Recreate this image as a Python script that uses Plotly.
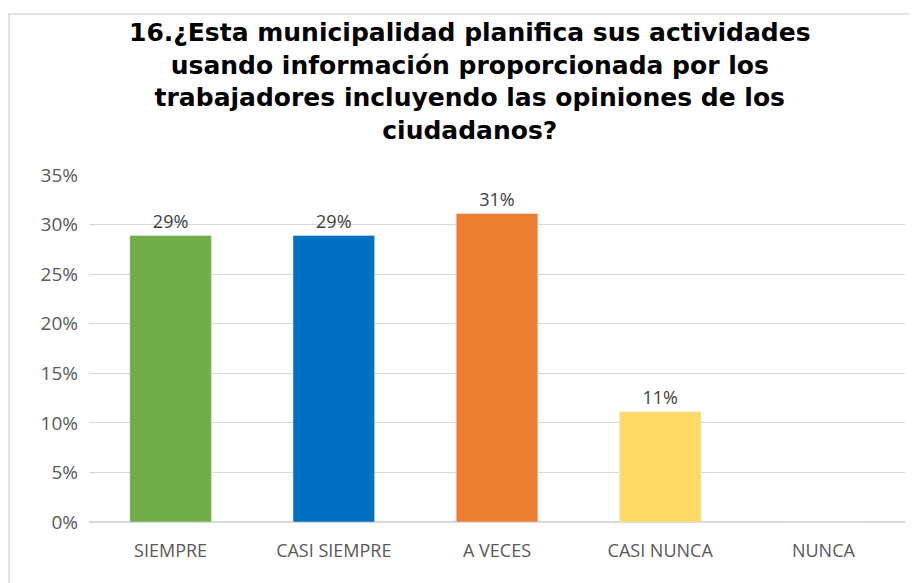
import plotly.graph_objects as go

categories = ["SIEMPRE", "CASI SIEMPRE", "A VECES", "CASI NUNCA", "NUNCA"]
values = [0.2889, 0.2889, 0.3111, 0.1111, 0.0]
labels = ["29%", "29%", "31%", "11%", ""]
colors = ["#70AD47", "#0070C0", "#ED7D31", "#FFD966", "#A5A5A5"]
title_text = ("16.¿Esta municipalidad planifica sus actividades<br>"
              "usando información proporcionada por los<br>"
              "trabajadores incluyendo las opiniones de los<br>"
              "ciudadanos?")

# page has an 8px body margin, so figure is drawn from (8, 8)
W, H = 909, 575
L, R, T, B = 81, 12, 167, 61
pw = W - L - R
ph = H - T - B

fig = go.Figure()
fig.add_trace(go.Bar(
    x=categories, y=values, marker_color=colors, width=0.5,
    text=labels, textposition="outside", cliponaxis=False,
    textfont=dict(family="Open Sans", size=18, color="#404040"),
    hoverinfo="skip",
))

fig.update_layout(
    width=W, height=H,
    margin=dict(l=L, r=R, t=T, b=B),
    paper_bgcolor="white", plot_bgcolor="white",
    showlegend=False,
    font=dict(family="Open Sans", size=18, color="#595959"),
    yaxis=dict(range=[0, 0.35], dtick=0.05, tickformat=".0%",
               showgrid=True, gridcolor="#D9D9D9", gridwidth=1,
               zeroline=True, zerolinecolor="#D9D9D9",
               ticks="", ticklen=0, showline=False,
               ticklabelstandoff=10,
               tickfont=dict(family="Open Sans", size=19, color="#595959")),
    xaxis=dict(showgrid=False, showline=False, ticks="",
               ticklabelstandoff=16,
               tickfont=dict(family="Open Sans", size=18, color="#595959")),
    annotations=[dict(
        text="<b>" + title_text + "</b>",
        xref="paper", yref="paper",
        x=(462 - L) / pw, y=1 + (T - 73) / ph,
        xanchor="center", yanchor="middle",
        showarrow=False, align="center",
        font=dict(family="DejaVu Sans", size=25, color="#000000"),
    )],
    shapes=[
        dict(type="line", xref="paper", yref="paper",
             x0=(0 - L) / pw, x1=(W - L) / pw,
             y0=1 + (T - 6) / ph, y1=1 + (T - 6) / ph,
             line=dict(color="#D9D9D9", width=1.5)),
        dict(type="line", xref="paper", yref="paper",
             x0=(1 - L) / pw, x1=(1 - L) / pw,
             y0=1 + (T - 6) / ph, y1=-B / ph,
             line=dict(color="#D9D9D9", width=1.5)),
    ],
)

fig.write_html("out.html")
